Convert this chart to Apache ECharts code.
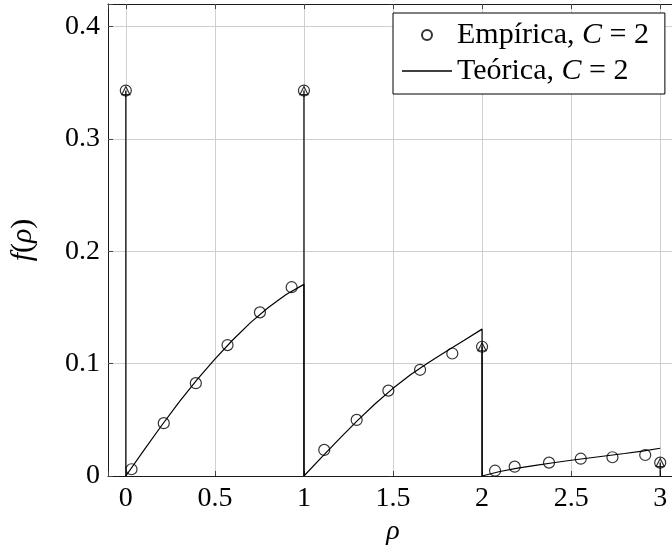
<!DOCTYPE html>
<html>
<head>
<meta charset="utf-8">
<script src="https://cdn.jsdelivr.net/npm/echarts@6/dist/echarts.min.js"></script>
<style>
html,body{margin:0;padding:0;background:#fff;}
#chart{width:672px;height:548px;}
</style>
</head>
<body>
<div id="chart"></div>
<script>
// Theoretical continuous density (jumps at rho = 1 and 2)
const theoryRho = [0, 0.1, 0.2, 0.3, 0.4, 0.5, 0.6, 0.7, 0.8, 0.9, 1.0,
                   1.0, 1.1, 1.2, 1.3, 1.4, 1.5, 1.6, 1.7, 1.8, 1.9, 2.0,
                   2.0, 2.1, 2.2, 2.3, 2.4, 2.5, 2.6, 2.7, 2.8, 2.9, 3.0];
const theoryF = [0, 0.0225, 0.0447, 0.0660, 0.0858, 0.1040, 0.1210, 0.1365, 0.1500, 0.1615, 0.1705,
                 0, 0.0168, 0.0333, 0.0493, 0.0643, 0.0780, 0.0903, 0.1010, 0.1110, 0.1208, 0.1307,
                 0, 0.0040, 0.0070, 0.0095, 0.0118, 0.0140, 0.0160, 0.0180, 0.0200, 0.0222, 0.0247];
// Theoretical point masses (spikes)
const spikeRho = [0, 1, 2, 3];
const spikeF = [0.343, 0.343, 0.115, 0.012];
// Empirical values
const empRho = [0, 0.032, 0.213, 0.393, 0.571, 0.753, 0.931,
                1, 1.114, 1.296, 1.474, 1.652, 1.833,
                2, 2.073, 2.183, 2.376, 2.554, 2.732, 2.916, 3];
const empF = [0.343, 0.006, 0.047, 0.0826, 0.1165, 0.1456, 0.168,
              0.343, 0.0232, 0.0499, 0.076, 0.0945, 0.109,
              0.115, 0.0047, 0.0083, 0.0119, 0.0154, 0.0167, 0.0187, 0.0119];
const xTicks = [0, 0.5, 1, 1.5, 2, 2.5, 3];
const yTicks = [0, 0.1, 0.2, 0.3, 0.4];

const FONT = 'Liberation Serif';
const FS = 28;
const LFS = 30;
const empName = 'Empírica, C = 2';
const theoName = 'Teórica, C = 2';

const theoryData = theoryRho.map((r, i) => [r, theoryF[i]]);
const spikeData = [];
spikeRho.forEach((r, i) => { spikeData.push([r, 0], [r, spikeF[i]], [r, '-']); });
const spikeTop = spikeRho.map((r, i) => [r, spikeF[i]]);
const empData = empRho.map((r, i) => [r, empF[i]]);

function isTick(v, list) { return list.some(t => Math.abs(t - v) < 1e-9); }

const chart = echarts.init(document.getElementById('chart'), null, {renderer: 'canvas'});
const axisLineStyle = {color: '#1a1a1a', width: 1};
chart.setOption({
  animation: false,
  backgroundColor: '#fff',
  grid: {left: 108, top: 4, width: 570, height: 472, outerBoundsMode: 'none', containLabel: false},
  xAxis: [{
    type: 'value', min: -0.1, max: 3.1, minInterval: 0.5, maxInterval: 0.5,
    position: 'bottom',
    axisLine: {show: true, onZero: false, lineStyle: axisLineStyle},
    axisTick: {show: true, inside: true, length: 5, lineStyle: {color: '#444'}},
    axisLabel: {color: '#000', fontFamily: FONT, fontSize: FS, margin: 9,
      formatter: v => isTick(v, xTicks) ? String(v) : ''},
    splitLine: {show: true, lineStyle: {color: '#cfcfcf', width: 1}},
    name: 'ρ', nameLocation: 'middle', nameGap: 42,
    nameTextStyle: {color: '#000', fontFamily: FONT, fontSize: FS, fontStyle: 'italic'}
  }, {
    type: 'value', min: -0.1, max: 3.1, minInterval: 0.5, maxInterval: 0.5,
    position: 'top',
    axisLine: {show: true, onZero: false, lineStyle: axisLineStyle},
    axisTick: {show: true, inside: true, length: 5, lineStyle: {color: '#444'}},
    axisLabel: {show: false}, splitLine: {show: false}
  }],
  yAxis: [{
    type: 'value', min: 0, max: 0.42, minInterval: 0.1, maxInterval: 0.1,
    position: 'left',
    axisLine: {show: true, onZero: false, lineStyle: axisLineStyle},
    axisTick: {show: true, inside: true, length: 5, lineStyle: {color: '#444'}},
    axisLabel: {color: '#000', fontFamily: FONT, fontSize: FS, margin: 8,
      formatter: v => isTick(v, yTicks) ? String(v) : ''},
    splitLine: {show: true, lineStyle: {color: '#cfcfcf', width: 1}},
    name: '{i|f}{r|(}{i|ρ}{r|)}', nameLocation: 'middle', nameGap: 70,
    nameTextStyle: {color: '#000', fontFamily: FONT, fontSize: FS,
      rich: {i: {fontFamily: FONT, fontSize: 30, fontStyle: 'italic', color: '#000'},
             r: {fontFamily: FONT, fontSize: 30, color: '#000'}}}
  }, {
    type: 'value', min: 0, max: 0.42, minInterval: 0.1, maxInterval: 0.1,
    position: 'right',
    axisLine: {show: true, onZero: false, lineStyle: axisLineStyle},
    axisTick: {show: true, inside: true, length: 5, lineStyle: {color: '#444'}},
    axisLabel: {show: false}, splitLine: {show: false}
  }],
  legend: {
    data: [
      {name: empName},
      {name: theoName, icon: 'path://M0,0L50,0L50,1.6L0,1.6Z'}
    ],
    orient: 'vertical', left: 393, top: 13,
    backgroundColor: '#fff', borderColor: '#000', borderWidth: 1, borderRadius: 0,
    padding: [7, 16, 8, 9], itemGap: 6, itemWidth: 50, itemHeight: 10,
    formatter: name => name === empName
      ? '{r|Empírica, }{i|C}{r| = 2}'
      : '{r|Teórica, }{i|C}{r| = 2}',
    textStyle: {color: '#000', fontFamily: FONT, fontSize: LFS, lineHeight: 30,
      rich: {r: {fontFamily: FONT, fontSize: LFS, lineHeight: 30, color: '#000'},
             i: {fontFamily: FONT, fontSize: LFS, lineHeight: 30, fontStyle: 'italic', color: '#000'}}}
  },
  series: [{
    name: theoName, type: 'line', data: theoryData, symbol: 'none', showSymbol: false,
    lineStyle: {color: '#000', width: 1.2}, itemStyle: {color: '#000'}, z: 3
  }, {
    name: 'spikes', type: 'line', data: spikeData, symbol: 'none', connectNulls: false,
    lineStyle: {color: '#000', width: 1.2}, itemStyle: {color: '#000'}, z: 3
  }, {
    name: 'spikeTop', type: 'scatter', data: spikeTop, symbol: 'triangle', symbolSize: 8,
    itemStyle: {color: 'none', borderColor: '#000', borderWidth: 1.2}, z: 4
  }, {
    name: empName, type: 'scatter', data: empData, symbol: 'circle', symbolSize: 11,
    itemStyle: {color: 'none', borderColor: '#000', borderWidth: 1.2}, z: 5
  }]
});
</script>
</body>
</html>
